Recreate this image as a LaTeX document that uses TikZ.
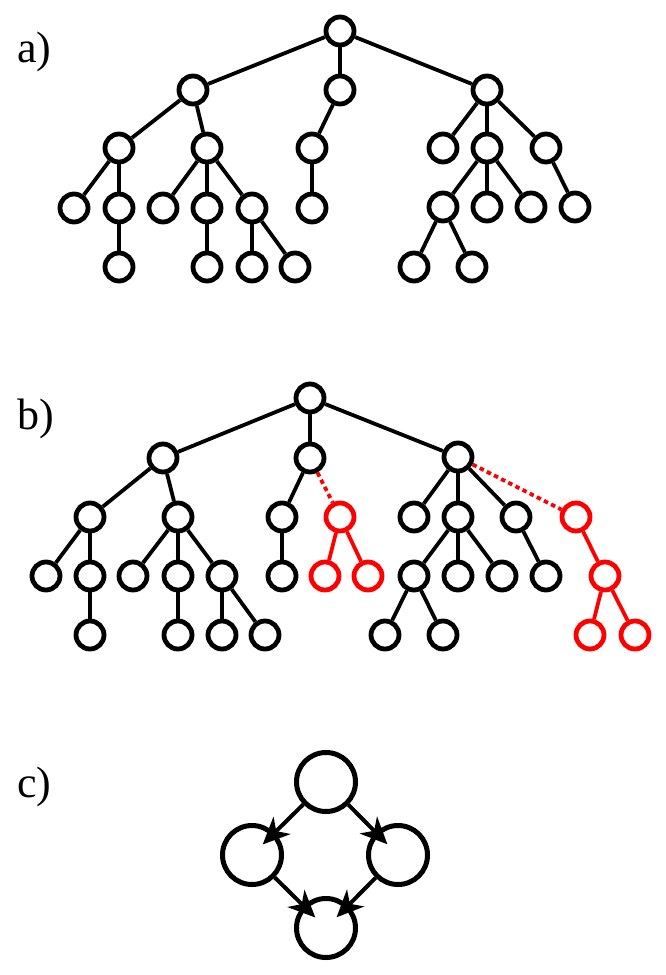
\documentclass[tikz,border=0pt]{standalone}
\usepackage{fontspec}
\setmainfont{Liberation Serif}
\usetikzlibrary{arrows.meta}
\begin{document}
\begin{tikzpicture}[x=1pt,y=-1pt,
  tn/.style={circle,draw=black,line width=4.8pt,minimum size=28pt,inner sep=0pt},
  rn/.style={tn,draw=red},
  cn/.style={circle,draw=black,line width=5pt,minimum size=59pt,inner sep=0pt},
  ed/.style={line width=3.8pt,black},
  redge/.style={line width=3.8pt,red},
  dotedge/.style={line width=3.8pt,red,dash pattern=on 4.5pt off 3.5pt},
  arr/.style={line width=4pt,-{Stealth[length=27pt,width=24pt,inset=8pt]},shorten >=-17pt},
  lab/.style={anchor=base west,inner sep=0pt,font=\fontsize{44}{50}\selectfont}]
\useasboundingbox (0,0) rectangle (666,975);
% labels
\node[lab] (la) at (17,62) {a)};
\node[lab] (lb) at (17,429) {b)};
\node[lab] (lc) at (17,797) {c)};
% ---------- (a) ----------
\node[tn] (ar) at (340,31) {};
\node[tn] (a1) at (193,90) {};
\node[tn] (a2) at (340,90) {};
\node[tn] (a3) at (487,90) {};
\node[tn] (a11) at (119,148) {};
\node[tn] (a12) at (207,148) {};
\node[tn] (a21) at (312,148) {};
\node[tn] (a31) at (443,148) {};
\node[tn] (a32) at (487,148) {};
\node[tn] (a33) at (546,148) {};
\node[tn] (a111) at (74,208) {};
\node[tn] (a112) at (119,208) {};
\node[tn] (a121) at (163,208) {};
\node[tn] (a122) at (207,208) {};
\node[tn] (a123) at (252,208) {};
\node[tn] (a211) at (312,208) {};
\node[tn] (a321) at (443,207) {};
\node[tn] (a322) at (487,207) {};
\node[tn] (a323) at (531,207) {};
\node[tn] (a331) at (575,207) {};
\node[tn] (a1121) at (119,267) {};
\node[tn] (a1221) at (207,267) {};
\node[tn] (a1231) at (252,267) {};
\node[tn] (a1232) at (295,267) {};
\node[tn] (a3211) at (414,267) {};
\node[tn] (a3212) at (472,267) {};
\foreach \u/\v in {ar/a1,ar/a2,ar/a3,a1/a11,a1/a12,a2/a21,a3/a31,a3/a32,a3/a33,
  a11/a111,a11/a112,a12/a121,a12/a122,a12/a123,a21/a211,a32/a321,a32/a322,a32/a323,a33/a331,
  a112/a1121,a122/a1221,a123/a1231,a123/a1232,a321/a3211,a321/a3212}
  \draw[ed] (\u) -- (\v);
% ---------- (b) ----------
\node[tn] (br) at (310,398) {};
\node[tn] (b1) at (163,458) {};
\node[tn] (b2) at (310,458) {};
\node[tn] (b3) at (458,457) {};
\node[tn] (b11) at (90,517) {};
\node[tn] (b12) at (178,517) {};
\node[tn] (b21) at (282,517) {};
\node[rn] (b22) at (340,517) {};
\node[tn] (b31) at (414,517) {};
\node[tn] (b32) at (458,517) {};
\node[tn] (b33) at (516,517) {};
\node[rn] (b34) at (576,517) {};
\node[tn] (b111) at (46,576) {};
\node[tn] (b112) at (90,576) {};
\node[tn] (b121) at (133,576) {};
\node[tn] (b122) at (178,576) {};
\node[tn] (b123) at (222,576) {};
\node[tn] (b211) at (282,576) {};
\node[rn] (b221) at (325,576) {};
\node[rn] (b222) at (368,576) {};
\node[tn] (b321) at (414,576) {};
\node[tn] (b322) at (458,576) {};
\node[tn] (b323) at (502,576) {};
\node[tn] (b331) at (546,576) {};
\node[rn] (b341) at (605,576) {};
\node[tn] (b1121) at (90,635) {};
\node[tn] (b1221) at (178,635) {};
\node[tn] (b1231) at (222,635) {};
\node[tn] (b1232) at (265,635) {};
\node[tn] (b3211) at (385,635) {};
\node[tn] (b3212) at (443,635) {};
\node[rn] (b3411) at (590,635) {};
\node[rn] (b3412) at (635,635) {};
\foreach \u/\v in {br/b1,br/b2,br/b3,b1/b11,b1/b12,b2/b21,b3/b31,b3/b32,b3/b33,
  b11/b111,b11/b112,b12/b121,b12/b122,b12/b123,b21/b211,b32/b321,b32/b322,b32/b323,b33/b331,
  b112/b1121,b122/b1221,b123/b1231,b123/b1232,b321/b3211,b321/b3212}
  \draw[ed] (\u) -- (\v);
\foreach \u/\v in {b22/b221,b22/b222,b34/b341,b341/b3411,b341/b3412}
  \draw[redge] (\u) -- (\v);
\draw[dotedge] (b2) -- (b22);
\draw[dotedge] (b3) -- (b34);
% ---------- (c) ----------
\node[cn] (ct) at (326,782) {};
\node[cn] (cl) at (252,855) {};
\node[cn] (cr) at (398,855) {};
\node[cn] (cb) at (326,928) {};
\draw[arr] (ct) -- (cl);
\draw[arr] (ct) -- (cr);
\draw[arr] (cl) -- (cb);
\draw[arr] (cr) -- (cb);
\end{tikzpicture}
\end{document}
